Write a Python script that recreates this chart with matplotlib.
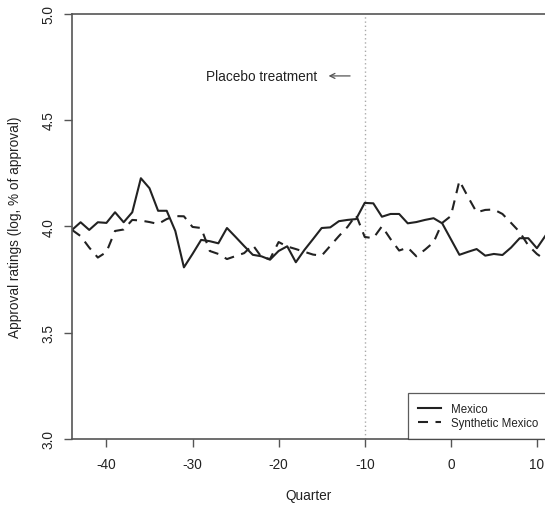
import matplotlib
matplotlib.use("Agg")
import matplotlib.pyplot as plt

plt.rcParams['font.family'] = ['Liberation Sans', 'DejaVu Sans']
plt.rcParams['axes.unicode_minus'] = False

quarters = list(range(-44, 12))
mexico = [3.983, 4.019, 3.983, 4.019, 4.016, 4.066, 4.019, 4.066, 4.226, 4.179,
          4.073, 4.073, 3.978, 3.807, 3.87, 3.936, 3.93, 3.92, 3.992, 3.95,
          3.907, 3.866, 3.859, 3.843, 3.884, 3.906, 3.831, 3.889, 3.94, 3.992,
          3.995, 4.024, 4.03, 4.034, 4.11, 4.108, 4.045, 4.058, 4.058, 4.014,
          4.02, 4.03, 4.038, 4.014, 3.94, 3.866, 3.88, 3.893, 3.862, 3.87,
          3.865, 3.90, 3.944, 3.944, 3.897, 3.956]
synthetic = [3.983, 3.954, 3.90, 3.853, 3.879, 3.978, 3.985, 4.03, 4.027, 4.02,
             4.011, 4.034, 4.048, 4.047, 3.997, 3.992, 3.884, 3.87, 3.846, 3.86,
             3.874, 3.912, 3.856, 3.846, 3.926, 3.905, 3.893, 3.88, 3.867, 3.862,
             3.908, 3.954, 3.997, 4.053, 3.95, 3.944, 4.0, 3.94, 3.886, 3.90,
             3.859, 3.89, 3.925, 4.016, 4.048, 4.214, 4.138, 4.066, 4.077, 4.079,
             4.058, 4.016, 3.973, 3.91, 3.87, 3.842]
series_labels = ["Mexico", "Synthetic Mexico"]
xticks = [-40, -30, -20, -10, 0, 10]
yticks = [3.0, 3.5, 4.0, 4.5, 5.0]
placebo_quarter = -10
annotation = "Placebo treatment"

fig = plt.figure(figsize=(5.45, 5.10), dpi=100)
ax = fig.add_axes([72/545, 1-440/510, 473.5/545, (440-14.6)/510])

line_col = '#222222'
axis_col = '#555555'
ax.plot(quarters, mexico, color=line_col, lw=1.5, label=series_labels[0])
ax.plot(quarters, synthetic, color=line_col, lw=1.5, dashes=(4.8, 3.6),
        label=series_labels[1])
ax.axvline(placebo_quarter, color='#aaaaaa', lw=1.0, ls=(0, (1, 2)), zorder=0)

ax.set_xlim(-44, 11)
ax.set_ylim(3.0, 5.0)
ax.set_xticks(xticks)
ax.set_yticks(yticks)
ax.set_yticklabels([f"{v:.1f}" for v in yticks], rotation=90, va='center')
ax.tick_params(axis='both', colors=axis_col, labelcolor='#222222', length=6,
               width=1.0, labelsize=9.8, pad=4)
ax.tick_params(axis='x', pad=7)
ax.tick_params(axis='y', pad=6)
for s in ['left', 'bottom', 'top']:
    ax.spines[s].set_color(axis_col)
    ax.spines[s].set_linewidth(1.2)
ax.spines['right'].set_visible(False)

ax.set_xlabel("Quarter", fontsize=9.8, color='#222222', labelpad=12)
ax.set_ylabel("Approval ratings (log, % of approval)", fontsize=9.8,
              color='#222222', labelpad=14)

ax.text(-22, 4.707, annotation, ha='center', va='center', fontsize=9.8,
        color='#222222')
ax.annotate('', xy=(-14.2, 4.707), xytext=(-11.7, 4.707),
            arrowprops=dict(arrowstyle='->', color='#555555', lw=0.9,
                            shrinkA=0, shrinkB=0, mutation_scale=9))

leg = ax.legend(loc='lower left', bbox_to_anchor=(0.7096, 0.0), fontsize=8.3,
                frameon=True, fancybox=False, borderaxespad=0, handlelength=2.0,
                handletextpad=0.9, borderpad=0.85, labelspacing=0.2)
leg.get_frame().set_edgecolor('#333333')
leg.get_frame().set_linewidth(0.9)
for t in leg.get_texts():
    t.set_color('#222222')

fig.savefig("out.png", dpi=100)
